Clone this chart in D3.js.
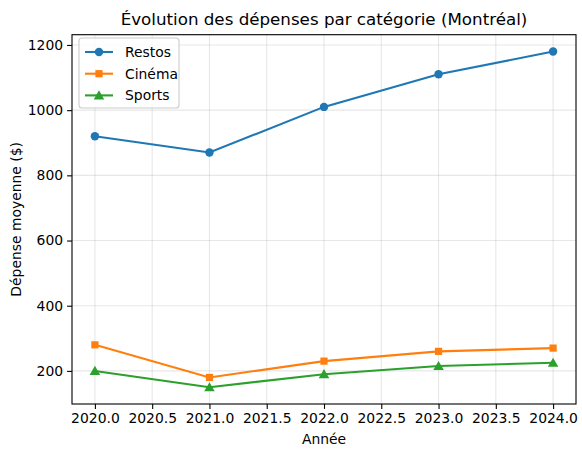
<!DOCTYPE html>
<html><head><meta charset="utf-8">
<script src="https://cdn.jsdelivr.net/npm/d3@7"></script>
<style>body{margin:0;background:#fff}text{font-family:"DejaVu Sans",sans-serif}</style>
</head><body><svg id="c" width="582" height="457"></svg>
<script>
const years=[2020,2021,2022,2023,2024];
const restos=[920,870,1010,1110,1180];
const cinema=[280,180,230,260,270];
const sports=[200,150,190,215,225];
const xTicks=[2020,2020.5,2021,2021.5,2022,2022.5,2023,2023.5,2024];
const yTicks=[200,400,600,800,1000,1200];
const series=[{name:"Restos",v:restos,c:"#1f77b4",m:"circle"},{name:"Cinéma",v:cinema,c:"#ff7f0e",m:"square"},{name:"Sports",v:sports,c:"#2ca02c",m:"triangle"}];
const L=72,R=576,T=34.7,B=404;
const svg=d3.select("#c");
const x=d3.scaleLinear().domain([2019.8,2024.2]).range([L,R]);
const y=d3.scaleLinear().domain([98.5,1231.5]).range([B,T]);
const g=svg.append("g");
xTicks.forEach(t=>g.append("line").attr("x1",x(t)).attr("x2",x(t)).attr("y1",T).attr("y2",B).attr("stroke","#b0b0b0").attr("stroke-opacity",0.3).attr("stroke-width",1.1));
yTicks.forEach(t=>g.append("line").attr("y1",y(t)).attr("y2",y(t)).attr("x1",L).attr("x2",R).attr("stroke","#b0b0b0").attr("stroke-opacity",0.3).attr("stroke-width",1.1));
const xa=svg.append("g").attr("transform",`translate(0,${B})`).call(d3.axisBottom(x).tickValues(xTicks).tickFormat(d3.format(".1f")).tickSize(4.9).tickPadding(4));
const ya=svg.append("g").attr("transform",`translate(${L},0)`).call(d3.axisLeft(y).tickValues(yTicks).tickFormat(d3.format("d")).tickSize(4.9).tickPadding(4));
[xa,ya].forEach(a=>{a.select(".domain").remove();a.selectAll("text").attr("font-size",13.9).attr("fill","#000");a.selectAll("line").attr("stroke","#000").attr("stroke-width",1.1);});
svg.append("rect").attr("x",L).attr("y",T).attr("width",R-L).attr("height",B-T).attr("fill","none").attr("stroke","#000").attr("stroke-width",1.1);
const sym={circle:d3.symbolCircle,square:d3.symbolSquare,triangle:d3.symbolTriangle};
function marker(sel,s,cx,cy){
  const size=s.m==="circle"?56:s.m==="square"?52:48;
  sel.append("path").attr("d",d3.symbol(sym[s.m],size)).attr("transform",`translate(${cx},${cy+(s.m==="triangle"?1:0)})`).attr("fill",s.c);
}
series.forEach(s=>{
  svg.append("path").datum(s.v).attr("d",d3.line().x((d,i)=>x(years[i])).y(d=>y(d))).attr("fill","none").attr("stroke",s.c).attr("stroke-width",2.1);
  s.v.forEach((d,i)=>marker(svg,s,x(years[i]),y(d)));
});
svg.append("rect").attr("x",79).attr("y",38).attr("width",100).attr("height",70).attr("rx",3).attr("fill","#fff").attr("fill-opacity",0.8).attr("stroke","#ccc").attr("stroke-width",1.1);
series.forEach((s,i)=>{
  const cy=52+i*21.7;
  svg.append("line").attr("x1",85).attr("x2",113).attr("y1",cy).attr("y2",cy).attr("stroke",s.c).attr("stroke-width",2.1);
  marker(svg,s,99,cy);
  svg.append("text").attr("x",125).attr("y",cy+5).attr("font-size",13.9).text(s.name);
});
svg.append("text").attr("x",(L+R)/2).attr("y",25).attr("text-anchor","middle").attr("font-size",16.7).text("Évolution des dépenses par catégorie (Montréal)");
svg.append("text").attr("x",(L+R)/2).attr("y",444).attr("text-anchor","middle").attr("font-size",13.9).text("Année");
svg.append("text").attr("transform",`translate(21,${(T+B)/2}) rotate(-90)`).attr("text-anchor","middle").attr("font-size",13.9).text("Dépense moyenne ($)");
</script></body></html>
